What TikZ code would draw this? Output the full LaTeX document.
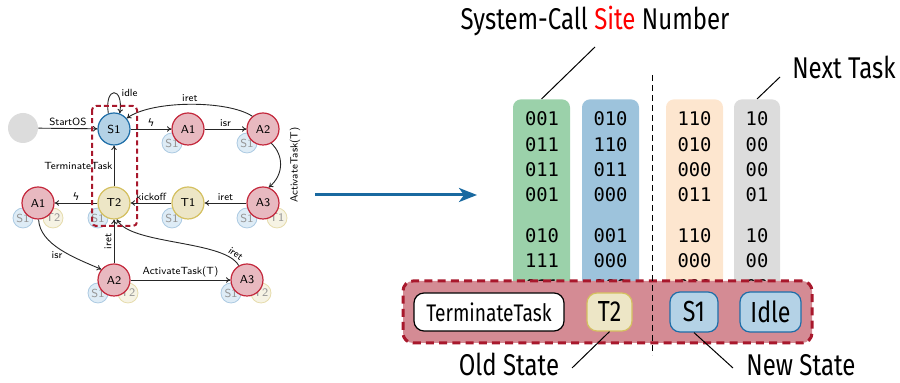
\documentclass[tikz,border=0pt]{standalone}
\usepackage{fontspec}
\usetikzlibrary{arrows.meta}
\newfontfamily\labelfont[FakeStretch=0.8]{Fira Sans}
\newfontfamily\digitfont{DejaVu Sans Mono}
\newfontfamily\symfont{DejaVu Sans}
\newcommand\irqbolt{{\symfont ϟ}}

\definecolor{redfill}{RGB}{232,185,192}
\definecolor{redline}{RGB}{196,40,60}
\definecolor{bluefill}{RGB}{180,210,230}
\definecolor{blueline}{RGB}{30,110,168}
\definecolor{yelfill}{RGB}{237,230,198}
\definecolor{yelline}{RGB}{212,192,96}
\definecolor{startfill}{RGB}{220,220,220}
\definecolor{gbfill}{RGB}{222,236,246}
\definecolor{gbline}{RGB}{172,202,226}
\definecolor{gyfill}{RGB}{246,243,228}
\definecolor{gyline}{RGB}{230,220,172}
\definecolor{gtext}{RGB}{150,150,150}
\definecolor{colgreen}{RGB}{155,209,170}
\definecolor{colblue}{RGB}{157,195,220}
\definecolor{colorange}{RGB}{253,230,207}
\definecolor{colgray}{RGB}{220,220,220}
\definecolor{barfill}{RGB}{212,139,148}
\definecolor{barline}{RGB}{168,24,44}
\definecolor{flowblue}{RGB}{25,105,160}

\begin{document}
\begin{tikzpicture}[x=0.5pt,y=-0.5pt,
  edge/.style={draw=black!85, line width=0.45pt, -{To[length=2.2pt,width=2.8pt]}},
  lbl/.style={font=\sffamily\fontsize{5.2}{6}\selectfont, inner sep=1pt},
  state/.style={circle, minimum size=16pt, inner sep=0pt, line width=0.6pt,
    font=\sffamily\fontsize{5.8}{7}\selectfont},
  redst/.style={state, fill=redfill, draw=redline},
  bluest/.style={state, fill=bluefill, draw=blueline},
  yelst/.style={state, fill=yelfill, draw=yelline},
  ghost/.style={circle, minimum size=10pt, inner sep=0pt, line width=0.4pt,
    text=gtext, font=\sffamily\fontsize{5.8}{7}\selectfont},
  ghostb/.style={ghost, fill=gbfill, draw=gbline},
  ghosty/.style={ghost, fill=gyfill, draw=gyline},
  colbox/.style={rounded corners=4pt, minimum width=28.5pt, minimum height=100.5pt,
    anchor=north, inner sep=0pt},
  digits/.style={font=\digitfont\fontsize{9.4}{11}\selectfont, inner sep=0pt},
  bigtxt/.style={font=\labelfont\fontsize{15}{18}\selectfont, inner sep=0pt},
  tag/.style={rounded corners=5pt, line width=0.6pt, inner sep=0pt,
    font=\labelfont\fontsize{14.5}{17}\selectfont},
  leader/.style={draw=black, line width=0.5pt}
]
\useasboundingbox (0,0) rectangle (900,383);

% ---------- state machine: shadow nodes (context stack) ----------
\node[ghostb] (g1) at (172,143) {S1};
\node[ghostb] (g2) at (247,143) {S1};
\node[ghostb] (g3) at (247,218) {S1};
\node[ghosty] (g4) at (277,218) {T1};
\node[ghostb] (g5) at (172,218) {S1};
\node[ghostb] (g6) at (98,218) {S1};
\node[ghostb] (g7) at (23,218) {S1};
\node[ghosty] (g8) at (53,218) {T2};
\node[ghostb] (g9) at (98,293) {S1};
\node[ghosty] (g10) at (128,293) {T2};
\node[ghostb] (g11) at (231,293) {S1};
\node[ghosty] (g12) at (261,293) {T2};

% ---------- state machine: states ----------
\node[circle, minimum size=15pt, fill=startfill] (start) at (23,128) {};
\node[bluest] (s1) at (114,129) {S1};
\node[redst] (a1t) at (188,129) {A1};
\node[redst] (a2t) at (263,129) {A2};
\node[redst] (a3r) at (263,203) {A3};
\node[yelst] (t1) at (188,203) {T1};
\node[yelst] (t2) at (114,203) {T2};
\node[redst] (a1l) at (38,203) {A1};
\node[redst] (a2b) at (114,280) {A2};
\node[redst] (a3b) at (247,280) {A3};

% ---------- state machine: transitions ----------
\draw[edge] (start) -- node[lbl, above] {StartOS} (s1);
\draw[edge] (s1.110) .. controls (104,86) and (124,86) .. (s1.70)
  node[lbl, pos=0.55, anchor=west, xshift=2pt] {idle};
\draw[edge] (s1) -- node[lbl, above] {\irqbolt} (a1t);
\draw[edge] (a1t) -- node[lbl, above] {isr} (a2t);
\draw[edge] (a2t.130) .. controls (228,100) and (152,100) .. (s1.40)
  node[lbl, pos=0.5, above] {iret};
\draw[edge] (a2t.-60) .. controls (284,155) and (284,175) .. (a3r.70);
\node[lbl, rotate=90] (actlbl) at (295,165) {ActivateTask(T)};
\draw[edge] (a3r) -- node[lbl, above] {iret} (t1);
\draw[edge] (t1) -- node[lbl, above] {kickoff} (t2);
\draw[edge] (t2) -- node[lbl, left, inner sep=0.5pt] {TerminateTask} (s1);
\draw[edge] (t2) -- node[lbl, above] {\irqbolt} (a1l);
\draw[edge] (a1l.-88) .. controls (40,245) and (75,258) .. (a2b.140)
  node[lbl, pos=0.45, below, yshift=-1pt] {isr};
\draw[edge] (a2b) -- node[lbl, rotate=90, anchor=south] {iret} (t2);
\draw[edge] (a2b) -- node[lbl, above] {ActivateTask(T)} (a3b);
\draw[edge] (a3b.120) .. controls (225,240) and (130,245) .. (t2.-80)
  node[lbl, pos=0.1, sloped, above] {iret};

% current transition highlighted
\draw[barline, line width=1pt, dash pattern=on 2.5pt off 1.6pt, rounded corners=2pt]
  (92,106) rectangle (137,226);

% ---------- transformation arrow ----------
\coordinate (flowfrom) at (315,195);
\coordinate (flowto) at (477,195);
\draw[flowblue, line width=1.5pt, -{Stealth[length=9pt,width=7pt,inset=2.5pt]}]
  (flowfrom) -- (flowto);

% ---------- encoded transition table ----------
\node[colbox, fill=colgreen] (cg) at (541.5,99) {};
\node[colbox, fill=colblue] (cb) at (610.5,99) {};
\node[colbox, fill=colorange] (co) at (694.5,99) {};
\node[colbox, fill=colgray, minimum width=23pt] (cy) at (757,99) {};

\foreach \y/\g/\b/\o/\k in {119/001/010/110/10, 144.5/011/110/010/00,
    170/011/011/000/00, 195/001/000/011/01, 236/010/001/110/10,
    261/111/000/000/00, 287/011/000/000/00} {
  \node[digits] at (542,\y) {\g};
  \node[digits] at (610.5,\y) {\b};
  \node[digits] at (694.5,\y) {\o};
  \node[digits] at (757,\y) {\k};
}

% highlighted row
\node[draw=barline, fill=barfill, line width=1.5pt, dash pattern=on 4pt off 2.6pt,
  rounded corners=5pt, minimum width=204.5pt, minimum height=31pt, inner sep=0pt]
  (bar) at (607.5,312) {};
\node[tag, draw=black, fill=white, minimum width=75pt, minimum height=19pt,
  font=\labelfont\fontsize{12}{14}\selectfont] (tt) at (489,312) {TerminateTask};
\node[tag, draw=yelline, fill=yelfill, minimum width=22.5pt, minimum height=19pt]
  (t2b) at (609.5,312) {T2};
\node[tag, draw=blueline, fill=bluefill, minimum width=24pt, minimum height=20pt]
  (s1b) at (694,312) {S1};
\node[tag, draw=blueline, fill=bluefill, minimum width=30.5pt, minimum height=20pt]
  (idleb) at (770.5,312) {Idle};

% separator between old and new state
\coordinate (septop) at (652,75);
\coordinate (sepbot) at (652,355);
\draw[black, line width=0.5pt, dash pattern=on 3pt off 2pt] (septop) -- (sepbot);

% ---------- annotations ----------
\node[bigtxt] (sysnum) at (595,21) {System-Call {\color{red}Site} Number};
\node[bigtxt] (nexttask) at (844,67) {Next Task};
\node[bigtxt, anchor=base] (oldst) at (509,376) {Old State};
\node[bigtxt, anchor=base] (newst) at (801,376) {New State};

\coordinate (sysfoot) at (595,47);
\coordinate (ntfoot) at (780,77);
\coordinate (osfoot) at (572,368);
\coordinate (nsfoot) at (733,368);
\draw[leader] (sysfoot) -- (cg.north);
\draw[leader] (ntfoot) -- (cy.north);
\draw[leader] (osfoot) -- (t2b.south);
\draw[leader] (s1b.south) -- (nsfoot);
\end{tikzpicture}
\end{document}
